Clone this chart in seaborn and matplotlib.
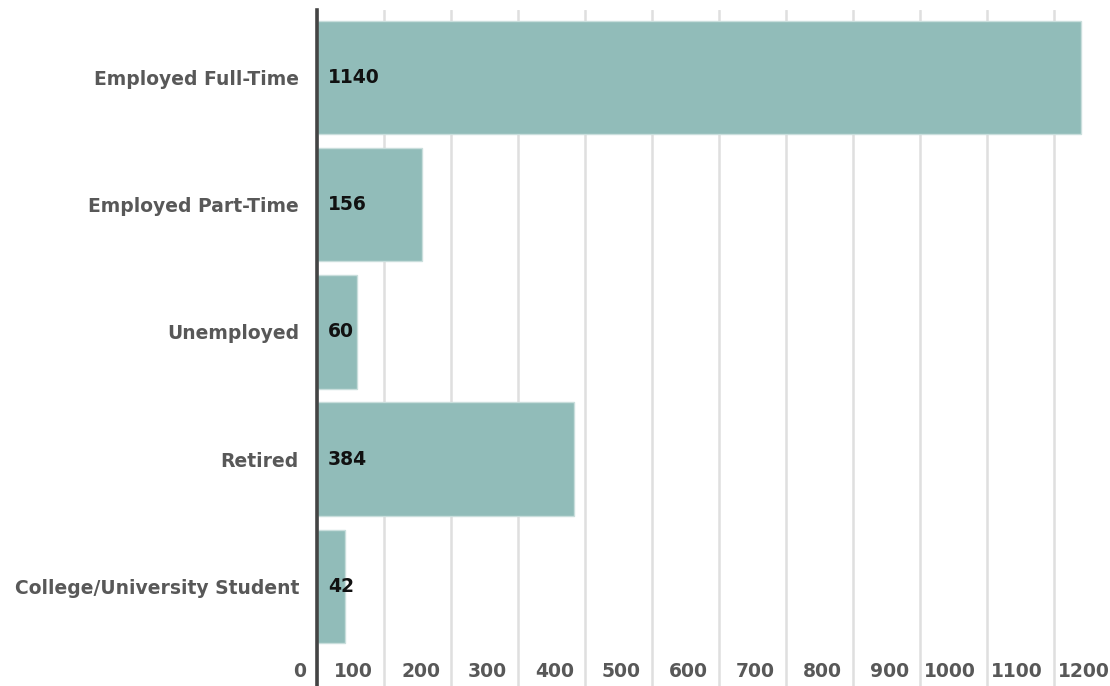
import pandas as pd
import seaborn as sns
import matplotlib.pyplot as plt
from matplotlib.transforms import ScaledTranslation

categorias = ["Employed Full-Time", "Employed Part-Time", "Unemployed",
              "Retired", "College/University Student"]
valores = [1140, 156, 60, 384, 42]
ticks_x = [0, 100, 200, 300, 400, 500, 600, 700, 800, 900, 1000, 1100, 1200]

df = pd.DataFrame({"categoria": categorias, "valor": valores})

sns.set_style("white")
plt.rcParams["font.family"] = ["DejaVu Sans"]

fig = plt.figure(figsize=(11.1, 6.86), dpi=100)
# eixo vai um pouco alem da borda direita, como no original
ax = fig.add_axes([317 / 1110, 0, 804 / 1110, 676 / 686])

sns.barplot(data=df, x="valor", y="categoria", orient="h", color="#91bcb9",
            saturation=1, width=0.89, edgecolor="#c9dedc", linewidth=1,
            ax=ax, zorder=2)

ax.set_xlim(0, 1200)
ax.set_ylim(4.787, -0.535)
ax.set_xlabel("")
ax.set_ylabel("")

for s in ["top", "right", "bottom"]:
    ax.spines[s].set_visible(False)
ax.spines["left"].set_color("#444444")
ax.spines["left"].set_linewidth(2.6)
ax.spines["left"].set_zorder(5)

ax.set_xticks(ticks_x)
ax.set_xticklabels([str(t) for t in ticks_x])
ax.grid(axis="x", color="#dfdfdf", linewidth=1.8, zorder=0)
ax.set_axisbelow(True)

tam = 13.5
ax.tick_params(axis="x", length=0, pad=-17.5, labelsize=tam, labelcolor="#585858")
ax.tick_params(axis="y", length=0, pad=13, labelsize=tam, labelcolor="#585858")
desloc = ScaledTranslation(-11 / 100, 0, fig.dpi_scale_trans)
for lbl in ax.get_xticklabels():
    lbl.set_horizontalalignment("right")
    lbl.set_transform(lbl.get_transform() + desloc)
    lbl.set_fontweight("bold")
for lbl in ax.get_yticklabels():
    lbl.set_fontweight("bold")

for i, v in enumerate(valores):
    ax.text(16, i, str(v), ha="left", va="center", fontsize=tam,
            fontweight="bold", color="#111111", zorder=6)

fig.savefig("out.png", dpi=100)
